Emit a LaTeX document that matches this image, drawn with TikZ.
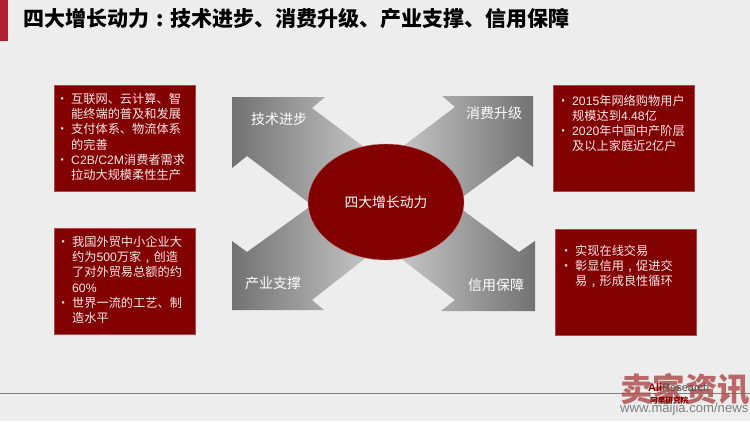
\documentclass[tikz,border=0pt]{standalone}
\usepackage{fontspec}
\setmainfont{Noto Sans CJK SC}
\newfontfamily\latinfont{Liberation Sans}
\usepackage{tikz}
\usetikzlibrary{shapes.geometric, positioning}
\definecolor{pagegray}{HTML}{EDEDED}
\definecolor{boxred}{HTML}{820000}
\definecolor{barred}{HTML}{B02030}
\definecolor{armdark}{HTML}{727272}
\definecolor{armlight}{HTML}{D8D8D8}
\definecolor{markred}{HTML}{B05050}
\newcommand{\bul}{\makebox[17pt][l]{\hspace{2pt}\textbullet}}
\newcommand{\ind}{\hspace{17pt}}
\newcommand{\midp}[1]{\makebox[12.2pt]{#1}}
\tikzset{
  infobox/.style={draw=boxred!70!white, line width=0.4pt, fill=boxred,
    minimum width=141pt, minimum height=106pt, anchor=north west, inner sep=0pt},
  infotext/.style={text=white!92!red, anchor=north west, align=left, inner sep=0pt,
    font=\fontsize{12.2}{15.2}\selectfont},
  armlabel/.style={text=white, inner sep=0pt, font=\fontsize{14}{16}\selectfont},
  armleft/.style={left color=armdark, right color=armlight},
  armright/.style={left color=armlight, right color=armdark}
}
\begin{document}
\begin{tikzpicture}[x=1pt, y=-1pt]
\useasboundingbox (0,0) rectangle (750,421);
\fill[pagegray] (0,0) rectangle (750,421);
\fill[barred] (0,0) rectangle (8,41);
\node (title) [anchor=west, inner sep=0pt, font=\fontsize{21}{24}\selectfont\bfseries] at (23,19)
  {四大增长动力\makebox[21pt]{:}技术进步、消费升级、产业支撑、信用保障};
\draw[gray, line width=0.8pt] (0,393.5) -- (750,393.5);

% four arms
\shade[armleft] (232,97) -- (325,97) -- (312,108) -- (400,174) -- (386,202) -- (315,207.5) -- (247,156) -- (232,168) -- cycle;
\shade[armright] (533,96) -- (442,96) -- (455,107) -- (370,171) -- (386,202) -- (455,202.5) -- (518,156) -- (533,167) -- cycle;
\shade[armleft] (232,241) -- (247,252) -- (315,203) -- (386,202) -- (400,231) -- (312,300) -- (324,310) -- (232,310) -- cycle;
\shade[armright] (535,241) -- (519,252) -- (452,202) -- (386,202) -- (370,235) -- (455,300) -- (441,311) -- (535,311) -- cycle;

\node (core) [ellipse, fill=boxred, draw=markred!70!white, line width=0.4pt, minimum width=156pt, minimum height=116pt, inner sep=0pt,
  text=white, font=\fontsize{13.8}{16}\selectfont] at (386,202) {四大增长动力};

\node (tech) [armlabel] at (279,119) {技术进步};
\node (cons) [armlabel] at (494,113) {消费升级};
\node (indu) [armlabel] at (273,283.5) {产业支撑};
\node (cred) [armlabel] at (496,285) {信用保障};

\node (boxa) [infobox] at (54,85) {};
\node (boxb) [infobox] at (553,85) {};
\node (boxc) [infobox] at (54,228) {};
\node (boxd) [infobox] at (555,229) {};

\node (texta) [infotext] at (54,93) {\bul 互联网、云计算、智\\\ind 能终端的普及和发展\\\bul 支付体系、物流体系\\\ind 的完善\\\bul {\latinfont C2B/C2M}消费者需求\\\ind 拉动大规模柔性生产};
\node (textb) [infotext] at (555,94.5) {\bul {\latinfont 2015}年网络购物用户\\\ind 规模达到{\latinfont 4.48}亿\\\bul {\latinfont 2020}年中国中产阶层\\\ind 及以上家庭近{\latinfont 2}亿户};
\node (textc) [infotext] at (55,236) {\bul 我国外贸中小企业大\\\ind 约为{\latinfont 500}万家\midp{,}创造\\\ind 了对外贸易总额的约\\\ind {\latinfont 60\%}\\\bul 世界一流的工艺、制\\\ind 造水平};
\node (textd) [infotext] at (558,245) {\bul 实现在线交易\\\bul 彰显信用\midp{,}促进交\\\ind 易\midp{,}形成良性循环};

% watermark
\node (mark) [anchor=west, inner sep=0pt, text=markred, opacity=0.85, font=\fontsize{32.5}{34}\selectfont\bfseries] at (620,389) {卖家资讯};
\node (site) [anchor=west, inner sep=0pt, text=gray, font=\fontsize{13.1}{15}\selectfont\latinfont] at (620,409) {www.maijia.com/news};
\node (ali) [anchor=west, inner sep=0pt, text=black!70, font=\fontsize{11}{12}\selectfont\latinfont] at (648,388) {{\color{boxred}\bfseries Ali}Research};
\node (alicn) [anchor=west, inner sep=0pt, text=boxred, font=\fontsize{7.6}{9}\selectfont\bfseries] at (650,401) {阿里研究院};
\end{tikzpicture}
\end{document}
